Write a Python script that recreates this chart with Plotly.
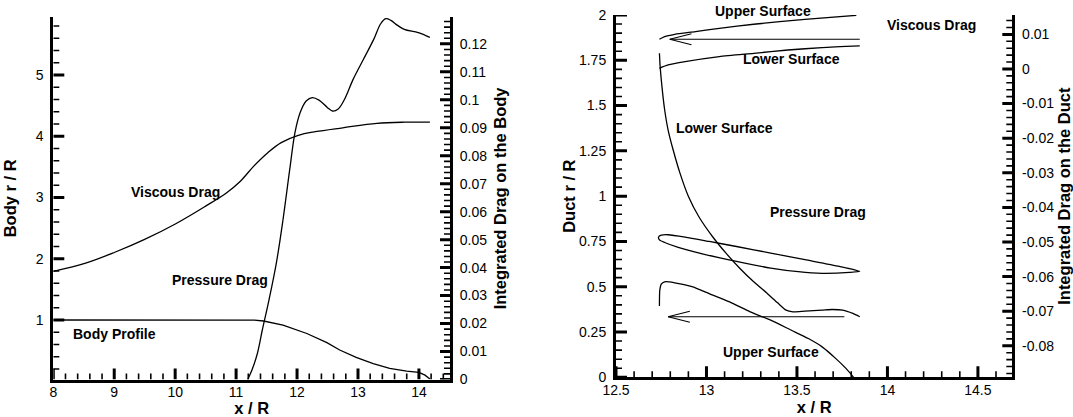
import plotly.graph_objects as go

# ---------------- data: left panel (body) ----------------
body_x = [8.0, 9.0, 10.0, 11.0, 11.2, 11.3, 11.45, 11.77, 12.16, 12.49, 12.70, 12.97, 13.25, 13.52, 13.80, 14.0, 14.10, 14.18]
body_r = [1.0, 1.0, 1.0, 1.0, 1.0, 0.997, 0.984, 0.918, 0.78, 0.63, 0.51, 0.39, 0.29, 0.21, 0.167, 0.146, 0.10, 0.037]

visc_x = [8.0, 8.53, 9.01, 9.49, 10.01, 10.5, 10.84, 11.07, 11.29, 11.52, 11.74, 12.02, 12.30, 12.75, 13.31, 13.76, 14.18]
visc_d = [0.0387, 0.0416, 0.0455, 0.0500, 0.0557, 0.0620, 0.0667, 0.0709, 0.0763, 0.0811, 0.0847, 0.0873, 0.0886, 0.0900, 0.0916, 0.0920, 0.0920]

pres_x = [11.19, 11.26, 11.35, 11.43, 11.54, 11.66, 11.77, 11.88, 11.965, 12.05, 12.15, 12.25, 12.36, 12.50, 12.58, 12.67, 12.78, 12.92, 13.09, 13.26, 13.37, 13.455, 13.54, 13.65, 13.76, 13.99, 14.18]
pres_d = [0.0, 0.0034, 0.0094, 0.0177, 0.0285, 0.0416, 0.0572, 0.0751, 0.0882, 0.0954, 0.0996, 0.1008, 0.0999, 0.0972, 0.0960, 0.0966, 0.1002, 0.1073, 0.1145, 0.1217, 0.1271, 0.1290, 0.1284, 0.1266, 0.1252, 0.1240, 0.1223]

# ---------------- data: right panel (duct) ----------------
duct_x = [12.735, 12.75, 12.788, 12.882, 13.015, 13.166, 13.355, 13.544, 13.734, 13.847,
          13.79, 13.639, 13.507, 13.355, 13.166, 12.977, 12.844, 12.769, 12.74, 12.735]
duct_r = [0.774, 0.785, 0.787, 0.774, 0.750, 0.722, 0.686, 0.649, 0.612, 0.585,
          0.579, 0.574, 0.583, 0.603, 0.640, 0.682, 0.717, 0.744, 0.759, 0.774]

dv_up_x = [12.740, 12.769, 12.825, 12.939, 13.071, 13.261, 13.544, 13.828]
dv_up_d = [0.00858, 0.00935, 0.01002, 0.01080, 0.01176, 0.01292, 0.01436, 0.01550]

dv_lo_x = [12.740, 12.788, 12.882, 13.071, 13.261, 13.450, 13.639, 13.847]
dv_lo_d = [0.00019, 0.00116, 0.00212, 0.00357, 0.00453, 0.00549, 0.00617, 0.00665]

dp_lo_x = [12.740, 12.744, 12.754, 12.769, 12.788, 12.816, 12.854, 12.901, 12.958, 13.034, 13.109, 13.185, 13.261,
           13.336, 13.393, 13.440, 13.478, 13.544, 13.639, 13.696, 13.753, 13.809, 13.847]
dp_lo_d = [0.00453, 0.00067, -0.00511, -0.01186, -0.01764, -0.02342, -0.03017, -0.03692, -0.0427, -0.04848, -0.0533,
           -0.05764, -0.0615, -0.06487, -0.06757, -0.06969, -0.07017, -0.06998, -0.06969, -0.0695, -0.06969, -0.07065, -0.07161]

dp_up_x = [12.740, 12.742, 12.750, 12.769, 12.825, 12.920, 13.015, 13.128, 13.242, 13.355, 13.469, 13.563, 13.639, 13.715, 13.772, 13.813]
dp_up_d = [-0.0685, -0.0639, -0.0622, -0.0615, -0.0618, -0.0629, -0.0649, -0.0673, -0.0702, -0.0726, -0.0755, -0.0779,
           -0.0803, -0.0837, -0.0866, -0.0891]

# integration-direction arrows (tail x, tip x, level in drag units)
arrow_tail_x = [13.847, 13.762]
arrow_tip_x = [12.797, 12.788]
arrow_level = [0.00858, -0.0716]

# tick values / labels
body_x_ticks = [8, 9, 10, 11, 12, 13, 14]
body_r_ticks = [1, 2, 3, 4, 5]
body_drag_ticks = [0.0, 0.01, 0.02, 0.03, 0.04, 0.05, 0.06, 0.07, 0.08, 0.09, 0.10, 0.11, 0.12]
duct_x_ticks = [12.5, 13.0, 13.5, 14.0, 14.5]
duct_r_ticks = [0, 0.25, 0.5, 0.75, 1.0, 1.25, 1.5, 1.75, 2.0]
duct_drag_ticks = [0.01, 0.0, -0.01, -0.02, -0.03, -0.04, -0.05, -0.06, -0.07, -0.08]
duct_drag_labels = ["0.01", "0", "-0.01", "-0.02", "-0.03", "-0.04", "-0.05", "-0.06", "-0.07", "-0.08"]

# ---------------- figure ----------------
W, H = 1073, 417
FONT = "Liberation Sans, Arial, Helvetica, sans-serif"
LW = 1.3

X_L = [8, 14.51]
Y_L = [0.029, 5.942]
Y2_L = [0, 0.1295]
X_R = [12.5, 14.69]
Y_R = [0, 2.0]
Y2_R = [-0.0891, 0.0156]

# plot-area pixel boxes
LPX = (53.3, 450.0)
LPY = (17.3, 379.5)
RPX = (616.0, 1012.3)
RPY = (15.0, 377.3)

L = [LPX[0] / W, LPX[1] / W]
LY = [1 - LPY[1] / H, 1 - LPY[0] / H]
R = [RPX[0] / W, RPX[1] / W]
RY = [1 - RPY[1] / H, 1 - RPY[0] / H]


def per_px(rng, px):
    return (rng[1] - rng[0]) / (px[1] - px[0])


def minor_vals(lo, hi, step, major_step):
    out = []
    n0 = int(round(lo / step)) - 1
    n1 = int(round(hi / step)) + 1
    for n in range(n0, n1 + 1):
        v = round(n * step, 6)
        if lo - 1e-9 <= v <= hi + 1e-9:
            r = v / major_step
            if abs(r - round(r)) > 1e-6:
                out.append(v)
    return out


def tick_path_x(vals, base, length):
    xs, ys = [], []
    for v in vals:
        xs += [v, v, None]
        ys += [base, base + length, None]
    return xs, ys


def tick_path_y(vals, base, length):
    xs, ys = [], []
    for v in vals:
        xs += [base, base + length, None]
        ys += [v, v, None]
    return xs, ys


fig = go.Figure()
line = dict(color="black", width=LW)

fig.add_trace(go.Scatter(x=body_x, y=body_r, mode="lines", line=line, xaxis="x", yaxis="y", showlegend=False))
fig.add_trace(go.Scatter(x=visc_x, y=visc_d, mode="lines", line=dict(color="black", width=LW, shape="spline"),
                         xaxis="x", yaxis="y2", showlegend=False))
fig.add_trace(go.Scatter(x=pres_x, y=pres_d, mode="lines", line=dict(color="black", width=LW, shape="spline"),
                         xaxis="x", yaxis="y2", showlegend=False))

fig.add_trace(go.Scatter(x=duct_x, y=duct_r, mode="lines", line=dict(color="black", width=LW, shape="spline", smoothing=0.6),
                         xaxis="x2", yaxis="y3", showlegend=False))
for xs, ys in [(dv_up_x, dv_up_d), (dv_lo_x, dv_lo_d), (dp_lo_x, dp_lo_d), (dp_up_x, dp_up_d)]:
    fig.add_trace(go.Scatter(x=xs, y=ys, mode="lines", line=dict(color="black", width=LW, shape="spline", smoothing=0.6),
                             xaxis="x2", yaxis="y4", showlegend=False, cliponaxis=False))

# arrows built from the arrow data (open V heads)
head_len = 0.12
head_half = 0.0016
ax_, ay_ = [], []
for tail, tip, lev in zip(arrow_tail_x, arrow_tip_x, arrow_level):
    ax_ += [tail, tip, None, tip + head_len, tip, tip + head_len, None]
    ay_ += [lev, lev, None, lev + head_half, lev, lev - head_half, None]
fig.add_trace(go.Scatter(x=ax_, y=ay_, mode="lines", line=dict(color="black", width=1.1),
                         xaxis="x2", yaxis="y4", showlegend=False))

# ---- inward tick marks (major + minor), derived from the axis tick values ----
MAJ, MIN = 11, 6  # tick lengths in px
tick_specs = []
# left panel
kx, ky, ky2 = per_px(X_L, LPX), per_px(Y_L, LPY), per_px(Y2_L, LPY)
tick_specs.append(("x", "y", tick_path_x(body_x_ticks, Y_L[0], MAJ * ky), 3))
tick_specs.append(("x", "y", tick_path_x(minor_vals(X_L[0], X_L[1], 0.2, 1.0), Y_L[0], MIN * ky), 1.6))
tick_specs.append(("x", "y", tick_path_y(body_r_ticks, X_L[0], MAJ * kx), 3))
tick_specs.append(("x", "y", tick_path_y(minor_vals(Y_L[0], Y_L[1], 0.2, 1.0), X_L[0], MIN * kx), 1.6))
tick_specs.append(("x", "y2", tick_path_y(body_drag_ticks, X_L[1], -(MAJ - 1) * kx), 3))
tick_specs.append(("x", "y2", tick_path_y(minor_vals(Y2_L[0], Y2_L[1], 0.002, 0.01), X_L[1], -MIN * kx), 1.6))
# right panel
kx2, ky3, ky4 = per_px(X_R, RPX), per_px(Y_R, RPY), per_px(Y2_R, RPY)
tick_specs.append(("x2", "y3", tick_path_x(duct_x_ticks, Y_R[0], MAJ * ky3), 3))
tick_specs.append(("x2", "y3", tick_path_x(minor_vals(X_R[0], X_R[1], 0.1, 0.5), Y_R[0], MIN * ky3), 1.6))
tick_specs.append(("x2", "y3", tick_path_y(duct_r_ticks, X_R[0], MAJ * kx2), 3))
tick_specs.append(("x2", "y3", tick_path_y(minor_vals(Y_R[0], Y_R[1], 0.05, 0.25), X_R[0], MIN * kx2), 1.6))
tick_specs.append(("x2", "y4", tick_path_y(duct_drag_ticks, X_R[1], -(MAJ - 1) * kx2), 3))
tick_specs.append(("x2", "y4", tick_path_y(minor_vals(Y2_R[0], Y2_R[1], 0.002, 0.01), X_R[1], -MIN * kx2), 1.6))
for xa, ya, (txs, tys), wd in tick_specs:
    fig.add_trace(go.Scatter(x=txs, y=tys, mode="lines", line=dict(color="black", width=wd),
                             xaxis=xa, yaxis=ya, showlegend=False, hoverinfo="skip", cliponaxis=False))

lbl = dict(family=FONT, size=14, color="black", weight="bold")
left_labels = [("Viscous Drag", 10.01, 3.09), ("Pressure Drag", 10.73, 1.66), ("Body Profile", 9.0, 0.78)]
for t, x, y in left_labels:
    fig.add_annotation(text=t, x=x, y=y, xref="x", yref="y", showarrow=False, font=lbl)
right_labels = [("Viscous Drag", 14.245, 1.945), ("Lower Surface", 13.47, 1.755),
                ("Lower Surface", 13.10, 1.375), ("Pressure Drag", 13.616, 0.91), ("Upper Surface", 13.357, 0.141)]
for t, x, y in right_labels:
    fig.add_annotation(text=t, x=x, y=y, xref="x2", yref="y3", showarrow=False, font=lbl)
fig.add_annotation(text="Upper Surface", x=13.31, y=1.0, xref="x2", yref="paper", yanchor="middle",
                   yshift=-11, showarrow=False, font=lbl)

tickfont = dict(family=FONT, size=14, color="black")
titlefont = dict(family=FONT, size=16.5, color="black", weight="bold")
common = dict(showline=True, linecolor="black", linewidth=3, ticks="",
              showgrid=False, zeroline=False, automargin=False, tickfont=tickfont)

fig.update_layout(
    width=W, height=H, autosize=False,
    margin=dict(l=0, r=0, t=0, b=0),
    paper_bgcolor="white", plot_bgcolor="white",
    font=dict(family=FONT, color="black"),
    xaxis=dict(domain=L, range=X_L, anchor="y", tickmode="array", tickvals=body_x_ticks,
               ticklabelstandoff=-2, title=dict(text="x / R", font=titlefont, standoff=3), **common),
    yaxis=dict(domain=LY, range=Y_L, anchor="x", tickmode="array", tickvals=body_r_ticks,
               ticklabelstandoff=4, title=dict(text="Body r / R", font=titlefont, standoff=15), **common),
    yaxis2=dict(range=Y2_L, anchor="x", overlaying="y", side="right", tickmode="linear", tick0=0, dtick=0.01,
                ticklabelstandoff=4,
                title=dict(text="Integrated Drag on the Body", font=titlefont, standoff=9), **common),
    xaxis2=dict(domain=R, range=X_R, anchor="y3", tickmode="linear", tick0=12.5, dtick=0.5,
                ticklabelstandoff=-2, title=dict(text="x / R", font=titlefont, standoff=3), **common),
    yaxis3=dict(domain=RY, range=Y_R, anchor="x2", tickmode="linear", tick0=0, dtick=0.25,
                ticklabelstandoff=4, title=dict(text="Duct r / R", font=titlefont, standoff=0), **common),
    yaxis4=dict(range=Y2_R, anchor="x2", overlaying="y3", side="right", tickvals=duct_drag_ticks,
                ticktext=duct_drag_labels, ticklabelstandoff=4,
                title=dict(text="Integrated Drag on the Duct", font=titlefont, standoff=9), **common),
)

fig.write_html("out.html")
